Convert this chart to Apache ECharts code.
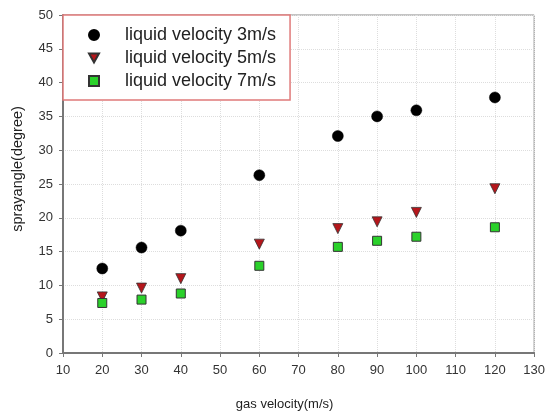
<!DOCTYPE html>
<html><head><meta charset="utf-8">
<script src="https://cdn.jsdelivr.net/npm/echarts@6/dist/echarts.min.js"></script>
<style>html,body{margin:0;padding:0;background:#fff}#c{width:548px;height:416px}</style>
</head><body><div id="c"></div>
<script>
const gasVelocity = [20, 30, 40, 60, 80, 90, 100, 120];
const liquid3 = [12.5, 15.6, 18.1, 26.3, 32.1, 35.0, 35.9, 37.8];
const liquid5 = [8.3, 9.6, 11.0, 16.1, 18.4, 19.4, 20.8, 24.3];
const liquid7 = [7.4, 7.9, 8.8, 12.9, 15.7, 16.6, 17.2, 18.6];
const seriesNames = ['liquid velocity 3m/s', 'liquid velocity 5m/s', 'liquid velocity 7m/s'];

const pairs = arr => gasVelocity.map((x, i) => [x, arr[i]]);
const font = 'Liberation Sans, Arial, sans-serif';
const downTriangle = 'path://M0,0 L10,0 L5,9 Z';
const chart = echarts.init(document.getElementById('c'), null, {renderer: 'canvas'});
chart.setOption({
  animation: false,
  backgroundColor: '#fff',
  grid: {left: 63, right: 12, top: 15, bottom: 61, show: true, borderColor: '#888', borderWidth: 1},
  legend: {
    orient: 'vertical', left: 63, top: 15,
    backgroundColor: '#fff', borderColor: '#e07a7a', borderWidth: 1.5, borderRadius: 0,
    padding: [11, 14, 10, 25], itemGap: 5, itemWidth: 10, itemHeight: 10,
    textStyle: {fontSize: 18, color: '#222', fontFamily: font, padding: [0, 0, 0, 21]},
    data: [
      {name: seriesNames[0], icon: 'circle'},
      {name: seriesNames[1], icon: downTriangle},
      {name: seriesNames[2], icon: 'rect'}
    ]
  },
  xAxis: {
    type: 'value', min: 10, max: 130, interval: 10,
    name: 'gas velocity(m/s)', nameLocation: 'middle', nameGap: 45,
    nameTextStyle: {fontSize: 13, color: '#222', fontFamily: font, padding: [0, 28, 0, 0]},
    axisLine: {show: true, lineStyle: {color: '#777', width: 2}},
    axisTick: {show: true, inside: false, length: 4, lineStyle: {color: '#777'}},
    axisLabel: {fontSize: 13, color: '#333', fontFamily: font, margin: 11},
    splitLine: {show: true, lineStyle: {color: '#ddd', type: 'dotted', width: 1}}
  },
  yAxis: {
    type: 'value', min: 0, max: 50, interval: 5,
    name: 'sprayangle(degree)', nameLocation: 'middle', nameGap: 38,
    nameTextStyle: {fontSize: 14.5, color: '#222', fontFamily: font, padding: [0, 0, 0, 30]},
    axisLine: {show: true, lineStyle: {color: '#777', width: 2}},
    axisTick: {show: true, inside: false, length: 4, lineStyle: {color: '#777'}},
    axisLabel: {fontSize: 13, color: '#333', fontFamily: font, margin: 10},
    splitLine: {show: true, lineStyle: {color: '#ddd', type: 'dotted', width: 1}}
  },
  series: [
    {name: seriesNames[0], type: 'scatter', data: pairs(liquid3), symbol: 'circle', symbolSize: 11,
     itemStyle: {color: '#000', borderColor: '#000', borderWidth: 0.5, opacity: 1}},
    {name: seriesNames[1], type: 'scatter', data: pairs(liquid5), symbol: 'triangle', symbolRotate: 180, symbolSize: 10,
     itemStyle: {color: '#b5161b', borderColor: '#333', borderWidth: 0.8, opacity: 1}},
    {name: seriesNames[2], type: 'scatter', data: pairs(liquid7), symbol: 'rect', symbolSize: 9,
     itemStyle: {color: '#2ad12a', borderColor: '#333', borderWidth: 1, opacity: 1}}
  ]
});
</script></body></html>
